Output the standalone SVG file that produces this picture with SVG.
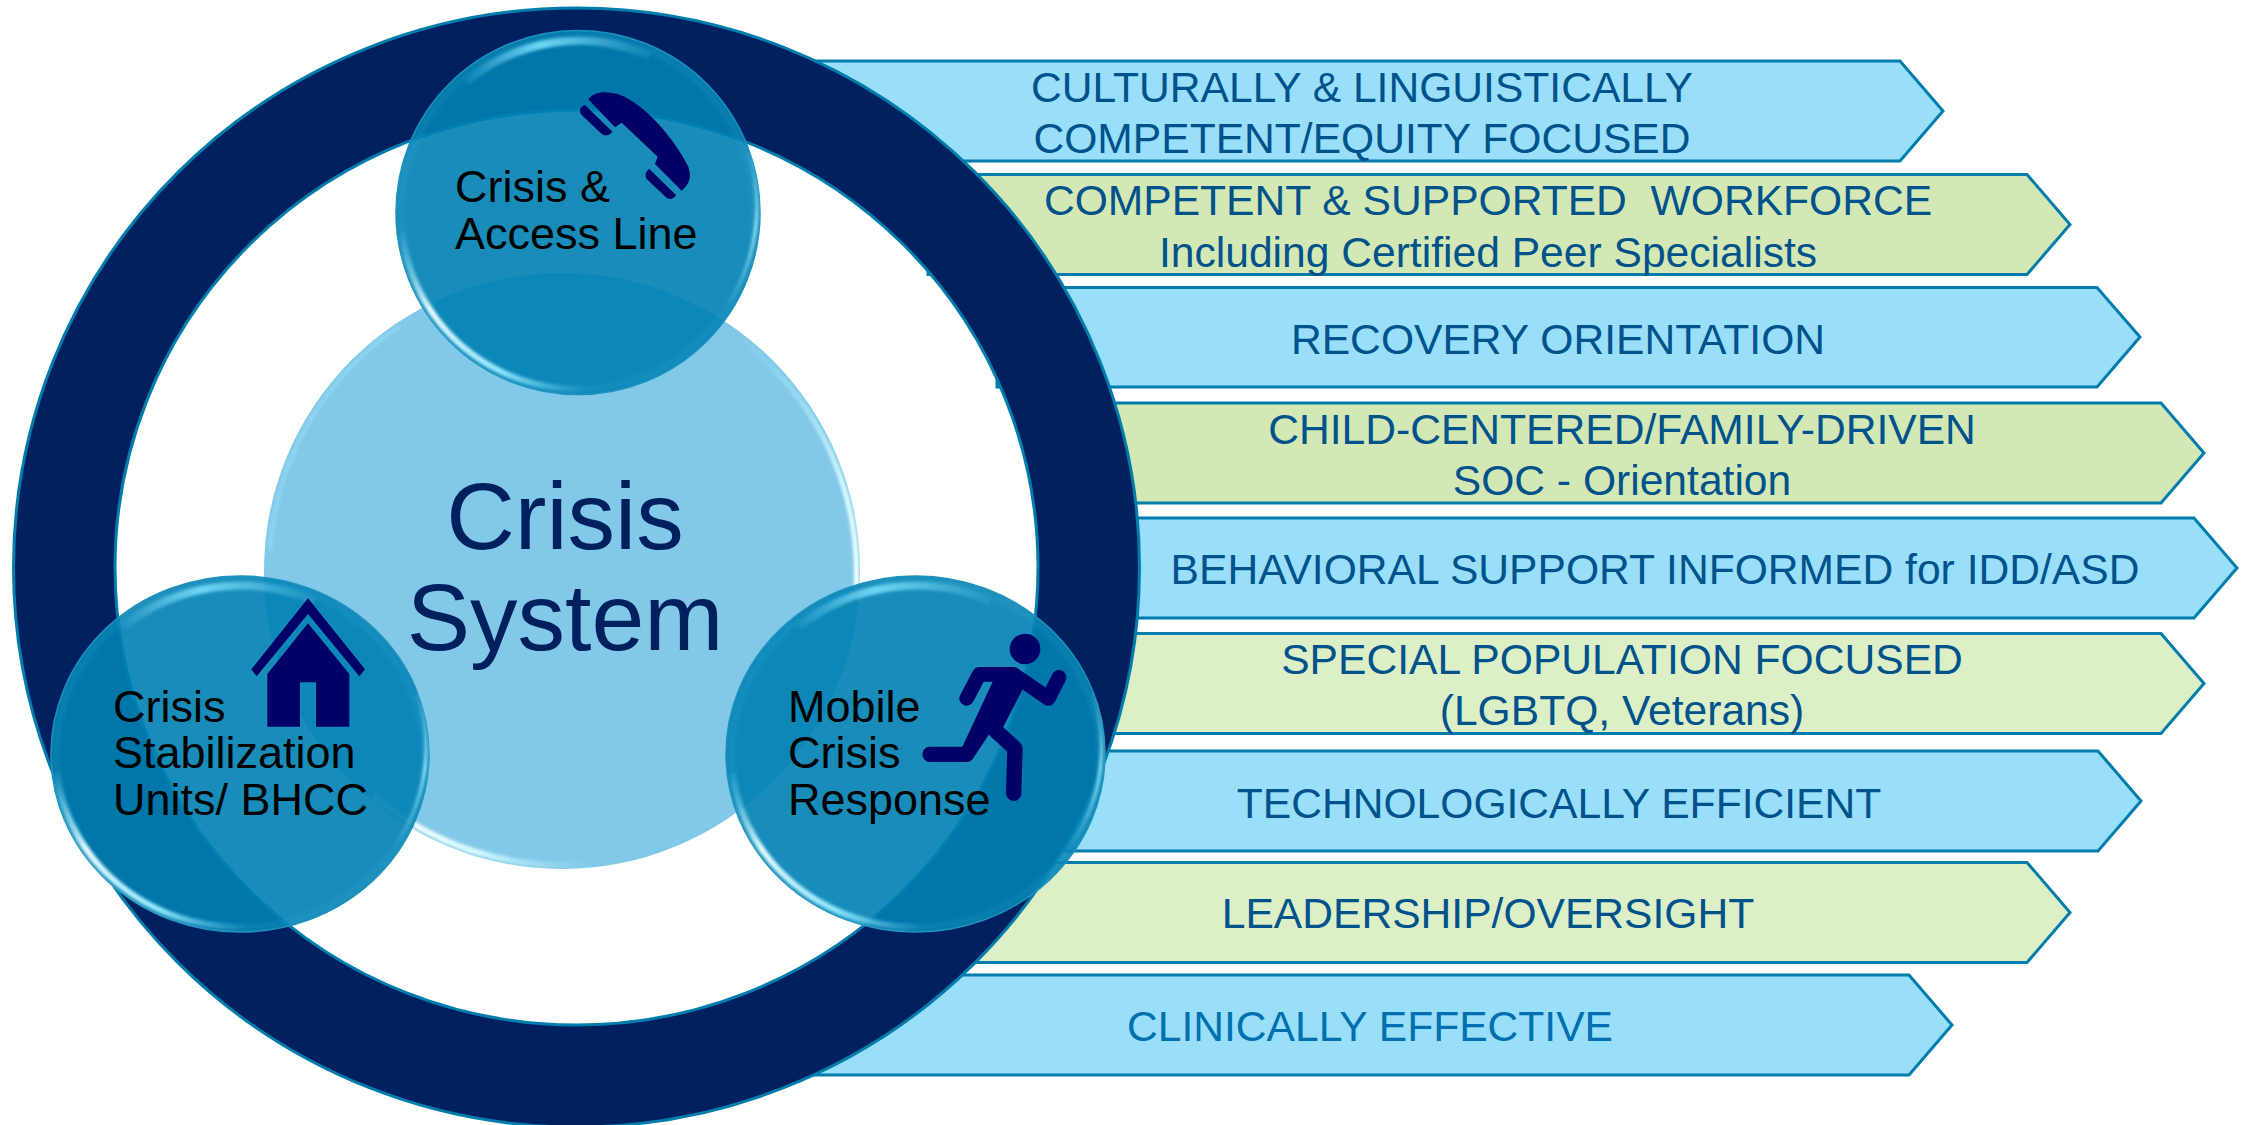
<svg xmlns="http://www.w3.org/2000/svg" width="2241" height="1125" viewBox="0 0 2241 1125">
<style>
text{font-family:"Liberation Sans",Arial,sans-serif}
.bar{stroke:#007DAC;stroke-width:3;stroke-linejoin:miter}
.blue{fill:#99DFF9}.green{fill:#D3E8B4}.pale{fill:#DCEFC7}
.bt{font-size:42.6px;fill:#00538C;text-anchor:middle}
.ct{font-size:45px;fill:#000}
.glass{fill:#0080B2;fill-opacity:.9;stroke:#1E90BC;stroke-width:1.500}
.icon{fill:#000066}
.rim{fill:none;stroke-linecap:butt}
</style>
<defs>
<filter id="soft" x="-30%" y="-30%" width="160%" height="160%"><feGaussianBlur stdDeviation="1.500"/></filter>
<filter id="soft2" x="-10%" y="-10%" width="120%" height="120%"><feGaussianBlur stdDeviation="2.500"/></filter>
<linearGradient id="gTop" gradientUnits="userSpaceOnUse" x1="-120" y1="-125" x2="85" y2="-150"><stop offset="0" stop-color="#6FD6F2" stop-opacity="0"/><stop offset=".42" stop-color="#6FD6F2"/><stop offset="1" stop-color="#6FD6F2" stop-opacity="0"/></linearGradient>
<linearGradient id="gLow" gradientUnits="userSpaceOnUse" x1="-178" y1="10" x2="40" y2="180"><stop offset="0" stop-color="#7BE0F8" stop-opacity="0"/><stop offset=".28" stop-color="#E6FBFF"/><stop offset=".62" stop-color="#8FE6FA"/><stop offset=".9" stop-color="#7BE0F8" stop-opacity="0"/></linearGradient>
<linearGradient id="gRight" gradientUnits="userSpaceOnUse" x1="176" y1="-70" x2="150" y2="95"><stop offset="0" stop-color="#9BEBFB" stop-opacity="0"/><stop offset=".5" stop-color="#9BEBFB"/><stop offset="1" stop-color="#9BEBFB" stop-opacity="0"/></linearGradient>
<linearGradient id="cLow" gradientUnits="userSpaceOnUse" x1="374" y1="794" x2="590" y2="866"><stop offset="0" stop-color="#FFFFFF"/><stop offset=".5" stop-color="#D8FBFF"/><stop offset="1" stop-color="#A8ECFB" stop-opacity="0"/></linearGradient>
<linearGradient id="cRight" gradientUnits="userSpaceOnUse" x1="740" y1="335" x2="856" y2="610"><stop offset="0" stop-color="#A8ECFB" stop-opacity="0"/><stop offset=".6" stop-color="#D8FBFF"/><stop offset="1" stop-color="#FFFFFF"/></linearGradient>
<g id="rims" class="rim">
<circle r="177" fill="none" stroke="#4DB8DC" stroke-opacity=".18" stroke-width="5" filter="url(#soft2)"/>
<path d="M-112,-130A172,172 0 0 1 72,-156" stroke="url(#gTop)" stroke-width="8" filter="url(#soft)"/>
<path d="M-176,20A177,177 0 0 0 30,174" stroke="url(#gLow)" stroke-width="6" filter="url(#soft)"/>
<path d="M170,-62A180,180 0 0 1 150,92" stroke="url(#gRight)" stroke-width="3" filter="url(#soft)"/>
</g>
</defs>
<rect width="2241" height="1125" fill="#FFFFFF"/>

<g id="bars">
<g id="bar1"><path class="bar blue" d="M810,61H1900L1943,111L1900,161H810Z"/><text class="bt" x="1362" y="102">CULTURALLY &amp; LINGUISTICALLY</text><text class="bt" x="1362" y="153">COMPETENT/EQUITY FOCUSED</text></g>
<g id="bar2"><path class="bar green" d="M928,174.500H2027L2070,224.500L2027,274.500H928Z"/><text class="bt" x="1488" y="215" xml:space="preserve">COMPETENT &amp; SUPPORTED  WORKFORCE</text><text class="bt" x="1488" y="267">Including Certified Peer Specialists</text></g>
<g id="bar3"><path class="bar blue" d="M997,287.500H2097L2140,337L2097,387H997Z"/><text class="bt" x="1558" y="354">RECOVERY ORIENTATION</text></g>
<g id="bar4"><path class="bar green" d="M1060,403H2161L2204,453L2161,503H1060Z"/><text class="bt" x="1622" y="444">CHILD-CENTERED/FAMILY-DRIVEN</text><text class="bt" x="1622" y="495">SOC - Orientation</text></g>
<g id="bar5"><path class="bar blue" d="M1060,518H2194L2237,568L2194,618H1060Z"/><text class="bt" x="1655" y="584">BEHAVIORAL SUPPORT INFORMED for IDD/ASD</text></g>
<g id="bar6"><path class="bar pale" d="M1060,633.500H2161L2204,683.500L2161,733.500H1060Z"/><text class="bt" x="1622" y="674">SPECIAL POPULATION FOCUSED</text><text class="bt" x="1622" y="725">(LGBTQ, Veterans)</text></g>
<g id="bar7"><path class="bar blue" d="M1000,751H2098L2141,801L2098,851H1000Z"/><text class="bt" x="1559" y="818">TECHNOLOGICALLY EFFICIENT</text></g>
<g id="bar8"><path class="bar pale" d="M950,862.500H2027L2070,912.500L2027,962.500H950Z"/><text class="bt" x="1488" y="928">LEADERSHIP/OVERSIGHT</text></g>
<g id="bar9"><path class="bar blue" d="M805,975H1909L1952,1025L1909,1075H805Z"/><text class="bt" x="1370" y="1041" style="fill:#0070B0">CLINICALLY EFFECTIVE</text></g>
</g>

<g id="ring"><path fill="#002060" stroke="#007DAC" stroke-width="3" fill-rule="evenodd" d="M13.500,567.500A563,559.500 0 1 1 1139.500,567.500A563,559.500 0 1 1 13.500,567.500ZM115,567.500A461.500,457.500 0 1 0 1038,567.500A461.500,457.500 0 1 0 115,567.500Z"/></g>

<g id="center">
<circle cx="562" cy="571" r="298" fill="#82C9E9"/>
<g fill="none" filter="url(#soft)">
<path d="M374,796A294,294 0 0 0 590,864" stroke="url(#cLow)" stroke-width="6"/>
<path d="M750,347A294,294 0 0 1 856,592" stroke="url(#cRight)" stroke-width="5"/>
<path d="M270,550A293,293 0 0 1 400,326" stroke="#A8ECFB" stroke-opacity=".35" stroke-width="4"/>
</g>
<text x="565" y="549" font-size="95" fill="#002060" text-anchor="middle">Crisis</text>
<text x="565" y="650" font-size="95" fill="#002060" text-anchor="middle">System</text>
</g>

<g id="node-access">
<circle class="glass" cx="578" cy="212.500" r="182"/>
<use href="#rims" transform="translate(578,212.500)"/>
<g transform="translate(380,0) scale(.33333)" class="icon">
<path d="M625,298C640,275 680,270 720,285C790,310 880,410 925,500C935,530 930,550 905,572L825,492L833,470L725,368L705,382Z"/>
<path d="M615,315L697,395C690,405 675,410 665,402L605,345C595,335 600,320 615,315Z"/>
<path d="M808,507L888,585C880,598 868,600 858,592L803,540C793,530 795,515 808,507Z"/>
</g>
<text class="ct" x="455" y="202">Crisis &amp;</text>
<text class="ct" x="455" y="249">Access Line</text>
</g>

<g id="node-stabilization">
<ellipse class="glass" cx="240" cy="754" rx="189" ry="178"/>
<use href="#rims" transform="translate(240,754) scale(1.04,.98)"/>
<g transform="translate(20,560) scale(.33333)" class="icon">
<path d="M864,115L1035,328L1018,349L864,162L710,349L694,328Z"/>
<path d="M864,190L988,342V500H888V367H840V500H742V342Z"/>
</g>
<text class="ct" x="113" y="722">Crisis</text>
<text class="ct" x="113" y="768">Stabilization</text>
<text class="ct" x="113" y="815">Units/ BHCC</text>
</g>

<g id="node-mobile">
<ellipse class="glass" cx="915.500" cy="754" rx="189.500" ry="178"/>
<use href="#rims" transform="translate(915.500,754) scale(1.04,.98)"/>
<g transform="translate(700,560) scale(.33333)">
<circle class="icon" cx="975" cy="267" r="46"/>
<path class="icon" d="M885,350L950,345L968,388L910,500L860,525L785,565Z"/>
<path d="M800,415L838,343H940L1045,415L1077,352" fill="none" stroke="#000066" stroke-width="44" stroke-linecap="round" stroke-linejoin="round"/>
<path d="M690,583H800L868,480" fill="none" stroke="#000066" stroke-width="46" stroke-linecap="round" stroke-linejoin="round"/>
<path d="M885,510L945,565L941,700" fill="none" stroke="#000066" stroke-width="46" stroke-linecap="round" stroke-linejoin="round"/>
</g>
<text class="ct" x="788" y="722">Mobile</text>
<text class="ct" x="788" y="768">Crisis</text>
<text class="ct" x="788" y="815">Response</text>
</g>
</svg>
